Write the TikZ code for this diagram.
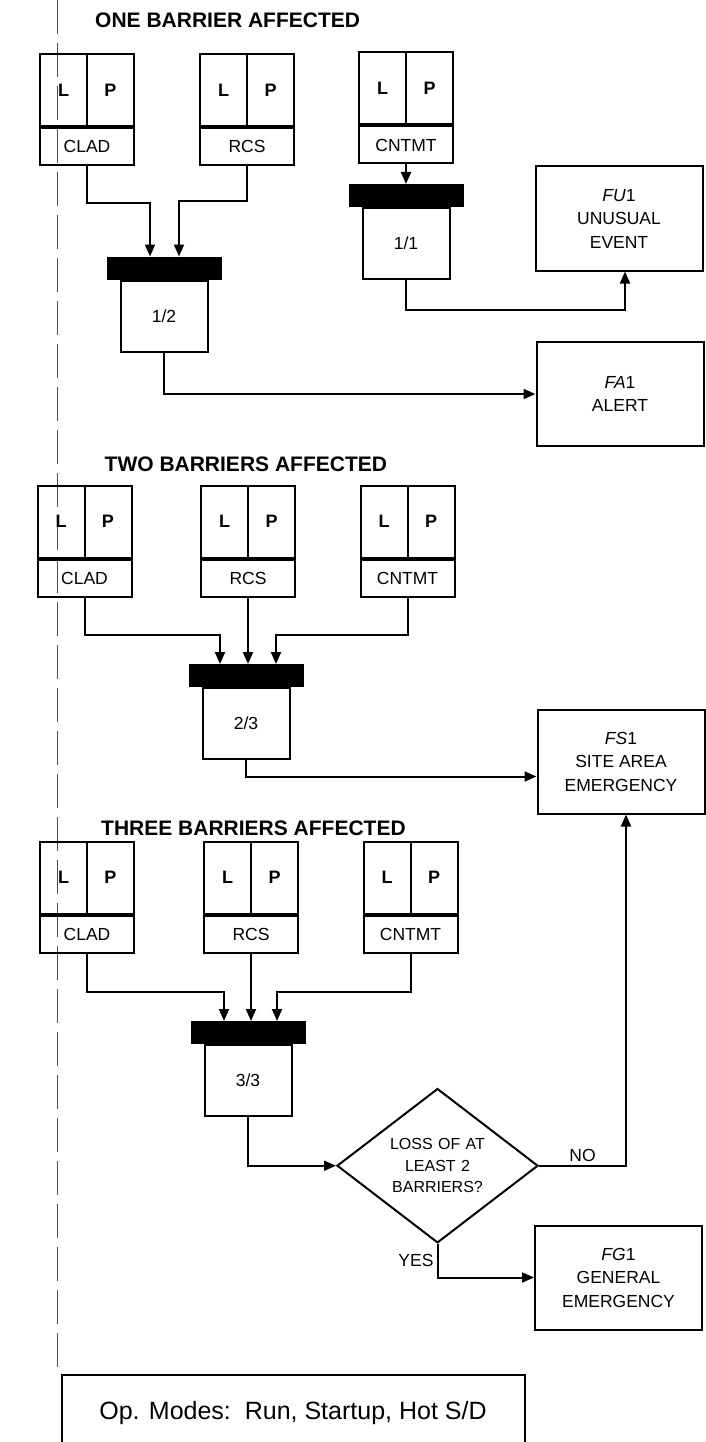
\documentclass[tikz,border=0pt]{standalone}
\usepackage{fontspec}
\setmainfont{Liberation Sans}
\usepackage{tikz}
\usetikzlibrary{arrows.meta, shapes.geometric, positioning}
\tikzset{
    box_font/.style={font=\fontsize{17.5}{23.5}\selectfont},
    title_text/.style={anchor=west, inner sep=0pt, font=\bfseries\fontsize{21}{24}\selectfont},
    name_cell/.style={draw=black, line width=2pt, minimum width=94pt, minimum height=37pt, inner sep=0pt, box_font},
    lp_cell/.style={draw=black, line width=2pt, minimum width=47pt, minimum height=72pt, inner sep=0pt, font=\bfseries\fontsize{18}{20}\selectfont},
    gate_bar/.style={draw=black, fill=black, line width=1pt, minimum width=114pt, minimum height=22pt, inner sep=0pt},
    gate_box/.style={draw=black, line width=2pt, minimum width=87pt, minimum height=71pt, inner sep=0pt, anchor=north, box_font},
    result_box/.style={draw=black, line width=2pt, minimum width=167pt, minimum height=104pt, inner sep=0pt, align=center, box_font},
    check_node/.style={diamond, draw=black, line width=2pt, minimum width=201pt, minimum height=143pt, inner sep=0pt, text width=100pt, align=center, font=\fontsize{16}{21.5}\selectfont},
    edge_label/.style={inner sep=3pt, box_font},
    flow_arrow/.style={-{Triangle[length=12pt, width=10pt]}, line width=2pt, draw=black},
    guide_line/.style={line width=0.7pt, draw=black!70, dash pattern={on 34pt off 9pt}}
}

\begin{document}
\begin{tikzpicture}[x=1pt, y=-1pt]
    \useasboundingbox (0,0) rectangle (706,1442);
    \clip (0,0) rectangle (706,1442);
    \draw[guide_line] (57.7,0) -- (57.7,1370);

    % one barrier
    \node[title_text] (title1) at (95,20) {ONE BARRIER AFFECTED};
    \node[name_cell] (clad1) at (87,146.5) {CLAD};
    \node[lp_cell, anchor=south west] (clad1l) at (clad1.north west) {L};
    \node[lp_cell, anchor=south east] (clad1p) at (clad1.north east) {P};
    \node[name_cell] (rcs1) at (247,146.5) {RCS};
    \node[lp_cell, anchor=south west] (rcs1l) at (rcs1.north west) {L};
    \node[lp_cell, anchor=south east] (rcs1p) at (rcs1.north east) {P};
    \node[name_cell] (cnt1) at (406,145) {CNTMT};
    \node[lp_cell, anchor=south west] (cnt1l) at (cnt1.north west) {L};
    \node[lp_cell, anchor=south east] (cnt1p) at (cnt1.north east) {P};

    \node[gate_bar] (g12bar) at (164,268) {};
    \node[gate_box] (g12) at (g12bar.south) {1/2};
    \node[gate_bar] (g11bar) at (406,195.5) {};
    \node[gate_box] (g11) at (g11bar.south) {1/1};

    \node[result_box] (fu) at (619,218.5) {\textit{FU}1\\UNUSUAL\\EVENT};
    \node[result_box] (fa) at (620,394) {\textit{FA}1\\ALERT};

    \draw[flow_arrow] (clad1.south) -- ++(0,37) -| ([xshift=-14pt]g12bar.north);
    \draw[flow_arrow] (rcs1.south) -- ++(0,35) -| ([xshift=15pt]g12bar.north);
    \draw[flow_arrow] (cnt1.south) -- (g11bar.north);
    \draw[flow_arrow] (g11.south) -- ++(0,30) -| ([xshift=6pt]fu.south);
    \draw[flow_arrow] (g12.south) |- (fa.west);

    % two barriers
    \node[title_text] (title2) at (104.5,464) {TWO BARRIERS AFFECTED};
    \node[name_cell] (clad2) at (84.5,578) {CLAD};
    \node[lp_cell, anchor=south west] (clad2l) at (clad2.north west) {L};
    \node[lp_cell, anchor=south east] (clad2p) at (clad2.north east) {P};
    \node[name_cell] (rcs2) at (248,578) {RCS};
    \node[lp_cell, anchor=south west] (rcs2l) at (rcs2.north west) {L};
    \node[lp_cell, anchor=south east] (rcs2p) at (rcs2.north east) {P};
    \node[name_cell] (cnt2) at (407.5,578) {CNTMT};
    \node[lp_cell, anchor=south west] (cnt2l) at (cnt2.north west) {L};
    \node[lp_cell, anchor=south east] (cnt2p) at (cnt2.north east) {P};

    \node[gate_bar] (g23bar) at (246,675.5) {};
    \node[gate_box] (g23) at (g23bar.south) {2/3};
    \node[result_box] (fs) at (621,761.5) {\textit{FS}1\\SITE AREA\\EMERGENCY};

    \draw[flow_arrow] (clad2.south) -- ++(0,37) -| ([xshift=-26pt]g23bar.north);
    \draw[flow_arrow] (rcs2.south) -- (rcs2.south |- g23bar.north);
    \draw[flow_arrow] (cnt2.south) -- ++(0,37) -| ([xshift=30pt]g23bar.north);
    \draw[flow_arrow] (g23.south) |- ([yshift=-15pt]fs.west);

    % three barriers
    \node[title_text] (title3) at (101,828) {THREE BARRIERS AFFECTED};
    \node[name_cell] (clad3) at (87,934) {CLAD};
    \node[lp_cell, anchor=south west] (clad3l) at (clad3.north west) {L};
    \node[lp_cell, anchor=south east] (clad3p) at (clad3.north east) {P};
    \node[name_cell] (rcs3) at (251,934) {RCS};
    \node[lp_cell, anchor=south west] (rcs3l) at (rcs3.north west) {L};
    \node[lp_cell, anchor=south east] (rcs3p) at (rcs3.north east) {P};
    \node[name_cell] (cnt3) at (410.5,934) {CNTMT};
    \node[lp_cell, anchor=south west] (cnt3l) at (cnt3.north west) {L};
    \node[lp_cell, anchor=south east] (cnt3p) at (cnt3.north east) {P};

    \node[gate_bar] (g33bar) at (248,1032.5) {};
    \node[gate_box] (g33) at (g33bar.south) {3/3};
    \node[check_node] (dia) at (437.5,1165.7) {LOSS OF AT\\LEAST 2\\BARRIERS?};
    \node[result_box] (fg) at (618.5,1277.5) {\textit{FG}1\\GENERAL\\EMERGENCY};

    \draw[flow_arrow] (clad3.south) -- ++(0,38) -| ([xshift=-24pt]g33bar.north);
    \draw[flow_arrow] (rcs3.south) -- (rcs3.south |- g33bar.north);
    \draw[flow_arrow] (cnt3.south) -- ++(0,38) -| ([xshift=29pt]g33bar.north);
    \draw[flow_arrow] (g33.south) |- (dia.west);
    \draw[flow_arrow] (dia.east) -| node[pos=0.25, above, edge_label] (nolbl) {NO} ([xshift=5pt]fs.south);
    \draw[flow_arrow] (dia.south) |- node[pos=0.25, left, edge_label] (yeslbl) {YES} (fg.west);

    \node[draw=black, line width=2pt, minimum width=463pt, minimum height=76pt, inner sep=0pt,
          font=\fontsize{25}{28}\selectfont] (opmodes) at (293,1413) {Op. Modes:\ \ Run, Startup, Hot S/D};
\end{tikzpicture}
\end{document}
